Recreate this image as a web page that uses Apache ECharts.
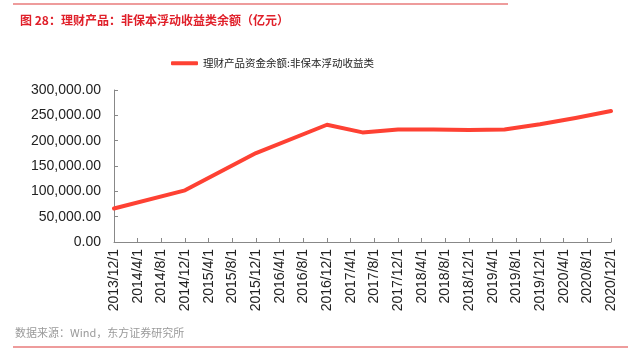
<!DOCTYPE html>
<html lang="zh">
<head>
  <meta charset="utf-8">
  <title>理财产品：非保本浮动收益类余额</title>
  <script src="https://cdn.jsdelivr.net/npm/echarts@6/dist/echarts.min.js"></script>
  <style>
    html, body { margin: 0; padding: 0; background: #fff; }
    #chart { width: 642px; height: 353px; }
  </style>
</head>
<body>
<div id="chart"></div>
<script>
  // data (亿元), semi-annual points from 2017 on
  const dates = ['2013/12', '2014/12', '2015/12', '2016/12', '2017/6', '2017/12',
    '2018/6', '2018/12', '2019/6', '2019/12', '2020/6', '2020/12'];
  const values = [66000, 102000, 175500, 231400, 216300, 222000,
    221800, 221200, 222000, 232500, 244800, 258500];
  const seriesName = '理财产品资金余额:非保本浮动收益类';
  const startYear = 2013, startMonth = 12;

  const latin = '"Liberation Sans", Arial, "Noto Sans CJK SC", sans-serif';
  const cjk = '"Noto Sans CJK SC", "Liberation Sans", sans-serif';

  // months since 2013/12 -> x position
  function monthIndex(s) {
    const p = s.split('/').map(Number);
    return (p[0] - startYear) * 12 + (p[1] - startMonth);
  }
  function monthLabel(m) {
    const t = startMonth - 1 + m;
    return (startYear + Math.floor(t / 12)) + '/' + (t % 12 + 1) + '/1';
  }
  function fmt2(v) {
    const s = Math.round(v).toString().replace(/\B(?=(\d{3})+(?!\d))/g, ',');
    return s + '.00';
  }

  const chart = echarts.init(document.getElementById('chart'));
  chart.setOption({
    animation: false,
    title: {
      text: '图 28：理财产品：非保本浮动收益类余额（亿元）',
      left: 15, top: 9,
      textStyle: { color: '#e0202a', fontSize: 12, fontWeight: 'bold', fontFamily: cjk }
    },
    legend: {
      data: [{ name: seriesName, icon: 'roundRect' }],
      left: 166, top: 53,
      itemWidth: 27, itemHeight: 4, itemGap: 4,
      textStyle: { fontSize: 10.5, color: '#222', fontFamily: cjk }
    },
    graphic: [
      { type: 'line', shape: { x1: 13, y1: 4, x2: 508, y2: 4 }, style: { stroke: '#e87b7b', lineWidth: 1.5 } },
      { type: 'line', shape: { x1: 13, y1: 347, x2: 628, y2: 347 }, style: { stroke: '#e87b7b', lineWidth: 1.5 } },
      {
        type: 'text', left: 15, top: 327,
        style: { text: '数据来源：Wind，东方证券研究所', fill: '#9a9a9a', fontSize: 11, fontFamily: cjk }
      }
    ],
    grid: { left: 114, right: 31, top: 90, bottom: 111, containLabel: false },
    xAxis: {
      type: 'value',
      min: 0, max: 84, interval: 4,
      splitLine: { show: false },
      axisLine: { lineStyle: { color: '#888' } },
      axisTick: { inside: true, length: 4, lineStyle: { color: '#888' } },
      axisLabel: {
        rotate: 90, margin: 7, color: '#222', fontSize: 14, fontFamily: latin,
        formatter: v => monthLabel(v)
      }
    },
    yAxis: {
      type: 'value',
      min: 0, max: 300000, interval: 50000,
      splitLine: { show: false },
      axisLine: { show: true, lineStyle: { color: '#888' } },
      axisTick: { show: true, inside: true, length: 4, lineStyle: { color: '#888' } },
      axisLabel: { margin: 13, color: '#222', fontSize: 14, fontFamily: latin, formatter: fmt2 }
    },
    series: [{
      name: seriesName,
      type: 'line',
      data: dates.map((d, i) => [monthIndex(d), values[i]]),
      showSymbol: false,
      symbol: 'none',
      lineStyle: { color: '#fe4133', width: 4, cap: 'round', join: 'round' },
      itemStyle: { color: '#fe4133' }
    }]
  });
</script>
</body>
</html>
